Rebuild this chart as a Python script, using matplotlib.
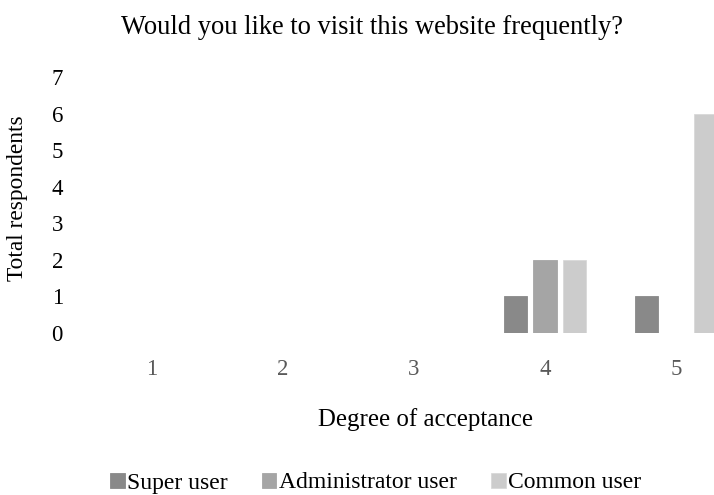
import numpy as np
import matplotlib
matplotlib.use("Agg")
from matplotlib import pyplot as plt

# data
categories = [1, 2, 3, 4, 5]
super_user = [0, 0, 0, 1, 1]
admin_user = [0, 0, 0, 2, 0]
common_user = [0, 0, 0, 2, 6]
series_names = ["Super user", "Administrator user", "Common user"]
colors = ["#898989", "#a5a5a5", "#cccccc"]

plt.rcParams['font.family'] = ['Liberation Serif', 'DejaVu Serif']

W, H = 714, 495
fig = plt.figure(figsize=(W / 100, H / 100), dpi=100)
# axes in pixel coords: x from 86.5 to 714, y from 333 (value 0) to 77 (value 7)
left, right = 86.5, 714
bottom, top = 333, 77
ax = fig.add_axes([left / W, 1 - bottom / H, (right - left) / W, (bottom - top) / H])

x = np.array(categories)
width = 0.176
offset = 0.225
for i, (vals, name) in enumerate(zip([super_user, admin_user, common_user], series_names)):
    ax.bar(x + (i - 1) * offset, vals, width, color=colors[i], label=name,
           edgecolor="#d9d9d9" if i == 2 else colors[i], linewidth=0.6)

ax.set_xlim(0.5, 5 + (714 - 676) / 131)
ax.set_ylim(0, 7)
ax.set_yticks(range(0, 8))
ax.set_xticks(categories)
for s in ax.spines.values():
    s.set_visible(False)
ax.tick_params(axis='both', length=0, labelsize=16.5)
ax.tick_params(axis='y', pad=17, labelcolor="#000000")
ax.tick_params(axis='x', pad=19, labelcolor="#595959")

fig.text(18 / W, 1 - 198 / H, "Total respondents", rotation=90, ha='center', va='center', fontsize=16.8)
fig.text(425 / W, 1 - 420 / H, "Degree of acceptance", ha='center', va='center', fontsize=17.9)
fig.text(372 / W, 1 - 28 / H, "Would you like to visit this website frequently?", ha='center', va='center', fontsize=19.1)

fig.legend(loc='center', bbox_to_anchor=(376 / W, 1 - 483 / H), ncol=3, frameon=False,
           fontsize=17, handlelength=0.6, handleheight=0.6, handletextpad=0.12, columnspacing=1.45)

fig.savefig("out.png", dpi=100)
